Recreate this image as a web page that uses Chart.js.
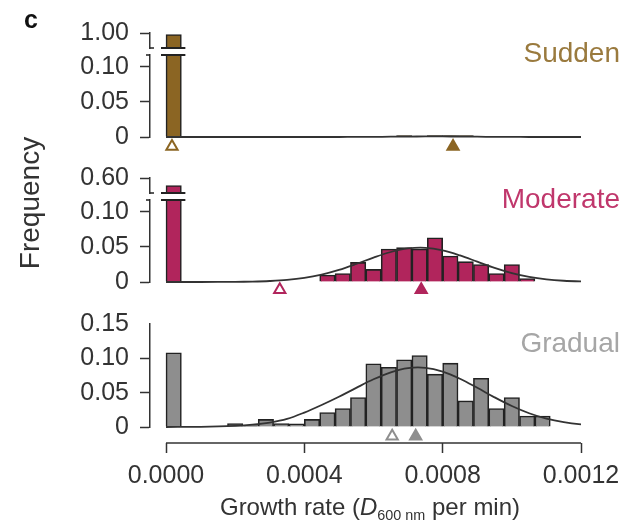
<!DOCTYPE html>
<html>
<head>
<meta charset="utf-8">
<script src="https://cdn.jsdelivr.net/npm/chart.js@4/dist/chart.umd.min.js"></script>
<style>
  body { margin: 0; background: #fff; }
  #wrap { position: relative; width: 642px; height: 527px; font-family: 'Liberation Sans', Arial, sans-serif; color: #333; }
  #wrap canvas { position: absolute; left: 0; top: 0; }
  .txt { position: absolute; line-height: 1; white-space: nowrap; }
  .sub { font-size: 0.6em; position: relative; top: 0.35em; }
</style>
</head>
<body>
<div id="wrap">
  <canvas id="growthChart" width="642" height="527"></canvas>
  <div class="txt" style="left:24px;top:7px;font-size:25px;font-weight:bold;color:#111">c</div>
  <div class="txt" style="right:22px;top:39px;font-size:28px;color:#9a7a3e">Sudden</div>
  <div class="txt" style="right:22px;top:185px;font-size:28px;color:#c0376c">Moderate</div>
  <div class="txt" style="right:22px;top:329px;font-size:28px;color:#a6a6a6">Gradual</div>
  <div class="txt" style="left:30px;top:203px;font-size:28px;transform:translate(-50%,-50%) rotate(-90deg)">Frequency</div>
  <div class="txt" style="left:370px;top:495px;font-size:24px;transform:translateX(-50%)">Growth rate (<i>D</i><span class="sub">600 nm</span> per min)</div>
</div>
<script>
'use strict';

// Histogramm-Klassen (Wachstumsrate, D600 pro min)
const binWidth = 0.0012 / 27;
const binCenters = Array.from({ length: 27 }, (_, i) => (i + 0.5) * binWidth);

const suddenFreq = [0.99, 0, 0, 0, 0, 0, 0, 0, 0, 0, 0, 0, 0, 0, 0, 0.002, 0, 0.002, 0.002, 0.002, 0, 0, 0, 0, 0, 0.001, 0.001];
const moderateFreq = [0.55, 0, 0, 0, 0, 0, 0, 0, 0, 0, 0.010, 0.012, 0.028, 0.018, 0.047, 0.049, 0.047, 0.063, 0.037, 0.029, 0.025, 0.012, 0.025, 0.005, 0, 0, 0];
const gradualFreq = [0.108, 0, 0, 0, 0.005, 0.002, 0.011, 0.005, 0.0045, 0.011, 0.021, 0.027, 0.043, 0.092, 0.087, 0.098, 0.104, 0.077, 0.093, 0.038, 0.071, 0.027, 0.043, 0.016, 0.016, 0, 0];

// Angepasste Normalverteilungen
const curveX = [0, 0.0001, 0.0002, 0.00025, 0.0003, 0.00035, 0.0004, 0.00045, 0.0005, 0.00055, 0.0006, 0.00065, 0.0007, 0.00075, 0.0008, 0.00085, 0.0009, 0.00095, 0.001, 0.00105, 0.0011, 0.00115, 0.0012, 0.00125];
const suddenCurve = [0, 0, 0, 0, 0, 0, 0, 0, 0, 0.0001, 0.0002, 0.0004, 0.0006, 0.0008, 0.0008, 0.0006, 0.0004, 0.0002, 0.0001, 0, 0, 0, 0, 0];
const moderateCurve = [0, 0, 0.0002, 0.0006, 0.0014, 0.0029, 0.0058, 0.0106, 0.0173, 0.0257, 0.0348, 0.0428, 0.0479, 0.0488, 0.0451, 0.0379, 0.029, 0.0201, 0.0127, 0.0073, 0.0038, 0.0018, 0.0008, 0.0003];
const gradualCurve = [0, 0.0003, 0.0017, 0.0034, 0.0065, 0.0118, 0.021, 0.032, 0.044, 0.057, 0.0695, 0.0797, 0.0858, 0.0862, 0.0807, 0.0703, 0.0571, 0.0432, 0.0305, 0.02, 0.0122, 0.007, 0.0037, 0.0018];

// Dreiecke unter der Achse: [offen, gefüllt]
const suddenMarks = [0.0000173, 0.00083];
const moderateMarks = [0.000329, 0.000738];
const gradualMarks = [0.000654, 0.000722];

const xTicks = [0, 0.0004, 0.0008, 0.0012];

const ink = '#333333';
const tickFont = { family: "'Liberation Sans', Arial, sans-serif", size: 25 };
const colors = {
  sudden: '#8b6523',
  moderate: '#b1255c',
  gradual: '#8e8e8e',
};

function toPoints(xs, ys) {
  return xs.map((x, i) => ({ x, y: ys[i] }));
}

function histogram(yAxisID, xs, values, color, breakBar) {
  return {
    type: 'bar',
    yAxisID,
    data: toPoints(xs, values),
    backgroundColor: color,
    borderColor: '#222222',
    borderWidth: 1.6,
    grouped: false,
    categoryPercentage: 1,
    barPercentage: 1,
    order: 2,
    clipTo: true,
    breakBar,
  };
}

function curve(yAxisID, values) {
  return {
    type: 'line',
    yAxisID,
    data: toPoints(curveX, values),
    borderColor: '#333333',
    borderWidth: 1.8,
    pointRadius: 0,
    tension: 0.35,
    fill: false,
    clip: false,
    order: 1,
    clipTo: true,
  };
}

function markers(yAxisID, xs, level, color) {
  return {
    type: 'line',
    yAxisID,
    data: xs.map(x => ({ x, y: level })),
    showLine: false,
    pointStyle: 'triangle',
    pointRadius: 6.5,
    pointBorderWidth: 2,
    pointBackgroundColor: ['#ffffff', color],
    pointBorderColor: [color, color],
    clip: false,
    order: 0,
  };
}

// Achsensegment im gemeinsamen Stapel links
function axisSegment(weight, px, min, max, ticks, bare = []) {
  return {
    type: 'linear',
    axis: 'y',
    position: 'left',
    stack: 'panels',
    stackWeight: px,
    weight,
    min,
    max,
    afterBuildTicks: s => { s.ticks = ticks.map(value => ({ value })); },
    afterFit: s => { s.width = 80; },
    border: { display: true, color: ink, width: 1.5 },
    grid: {
      drawOnChartArea: false,
      tickLength: 10,
      tickWidth: 1.5,
      tickColor: c => (c.tick && bare.includes(c.tick.value) ? 'rgba(0,0,0,0)' : ink),
    },
    ticks: {
      font: tickFont,
      color: ink,
      padding: 11,
      autoSkip: false,
      callback: v => (v === 0 ? '0' : v.toFixed(2)),
    },
  };
}

function gapSegment(weight, px) {
  return { type: 'linear', axis: 'y', position: 'left', display: false, stack: 'panels', stackWeight: px, weight, min: 0, max: 1 };
}

// Balken und Kurven nur im eigenen Achsensegment zeichnen
const segmentClip = {
  id: 'segmentClip',
  beforeDatasetDraw(chart, args) {
    const ds = chart.data.datasets[args.index];
    if (!ds.clipTo) return;
    const ys = chart.scales[ds.yAxisID];
    const area = chart.chartArea;
    const ctx = chart.ctx;
    ctx.save();
    ctx.beginPath();
    if (ds.type === 'line') {
      ctx.rect(area.left, ys.top, chart.width - area.left, ys.bottom - ys.top + 2);
    } else {
      ctx.rect(area.left, ys.top, area.right - area.left, ys.bottom - ys.top);
    }
    ctx.clip();
  },
  afterDatasetDraw(chart, args) {
    if (chart.data.datasets[args.index].clipTo) chart.ctx.restore();
  },
};

// Bruchstellen und x-Achsenlinie
const axisBreaks = {
  id: 'axisBreaks',
  afterDraw(chart) {
    const ctx = chart.ctx;
    ctx.save();
    ctx.strokeStyle = '#222222';
    chart.data.datasets.forEach((ds, i) => {
      if (!ds.breakBar) return;
      const hi = chart.scales[ds.yAxisID];
      const lo = chart.scales[ds.breakBar];
      const bar = chart.getDatasetMeta(i).data[0];
      const { x, width } = bar.getProps(['x', 'width'], true);
      ctx.lineWidth = 2;
      ctx.beginPath();
      ctx.moveTo(x - width / 2 - 5, hi.bottom);
      ctx.lineTo(x + width / 2 + 4, hi.bottom);
      ctx.moveTo(x - width / 2 - 5, lo.top);
      ctx.lineTo(x + width / 2 + 4, lo.top);
      ctx.stroke();
      ctx.lineWidth = 1.5;
      ctx.beginPath();
      ctx.moveTo(hi.right, hi.bottom);
      ctx.lineTo(hi.right + 4, hi.bottom);
      ctx.moveTo(lo.right - 4, lo.top);
      ctx.lineTo(lo.right, lo.top);
      ctx.stroke();
    });
    const xs = chart.scales.x;
    ctx.lineWidth = 1.5;
    ctx.strokeStyle = ink;
    ctx.beginPath();
    ctx.moveTo(xs.getPixelForValue(xTicks[0]), xs.top);
    ctx.lineTo(xs.getPixelForValue(xTicks[xTicks.length - 1]), xs.top);
    ctx.stroke();
    ctx.restore();
  },
};

const datasets = [
  histogram('sHi', [binCenters[0]], [suddenFreq[0]], colors.sudden, 'sLo'),
  histogram('sLo', binCenters, suddenFreq, colors.sudden),
  curve('sLo', suddenCurve),
  markers('sLo', suddenMarks, -0.0135, colors.sudden),
  histogram('mHi', [binCenters[0]], [moderateFreq[0]], colors.moderate, 'mLo'),
  histogram('mLo', binCenters, moderateFreq, colors.moderate),
  curve('mLo', moderateCurve),
  markers('mLo', moderateMarks, -0.011, colors.moderate),
  histogram('gLo', binCenters, gradualFreq, colors.gradual),
  curve('gLo', gradualCurve),
  markers('gLo', gradualMarks, -0.0135, colors.gradual),
];

new Chart(document.getElementById('growthChart').getContext('2d'), {
  type: 'bar',
  data: { datasets },
  plugins: [segmentClip, axisBreaks],
  options: {
    responsive: false,
    animation: false,
    events: [],
    layout: { padding: { top: 33, right: 61, bottom: 14, left: 70 } },
    plugins: { legend: { display: false }, tooltip: { enabled: false } },
    scales: {
      x: {
        type: 'linear',
        min: -0.0012 * 16 / 415, // Abstand zwischen y-Achse und Nullpunkt
        max: 0.0012,
        offset: false,
        afterBuildTicks: s => { s.ticks = xTicks.map(value => ({ value })); },
        afterFit: s => { s.height = 70; },
        border: { display: false },
        grid: { drawOnChartArea: false, offset: false, tickLength: 10, tickWidth: 1.5, tickColor: ink },
        ticks: { font: tickFont, color: ink, padding: 8, autoSkip: false, maxRotation: 0, callback: v => v.toFixed(4) },
      },
      sHi: axisSegment(10, 15, 0.9, 1.0, [1.0]),
      gap1: gapSegment(9, 7),
      sLo: axisSegment(8, 82, 0, 0.117, [0, 0.05, 0.1]),
      gap2: gapSegment(7, 41),
      mHi: axisSegment(6, 15, 0.5, 0.6, [0.6]),
      gap3: gapSegment(5, 7),
      mLo: axisSegment(4, 82, 0, 0.117, [0, 0.05, 0.1]),
      gap4: gapSegment(3, 42),
      gLo: axisSegment(2, 103, 0, 0.15, [0, 0.05, 0.1, 0.15], [0.15]),
      gap5: gapSegment(1, 16),
    },
  },
});
</script>
</body>
</html>
